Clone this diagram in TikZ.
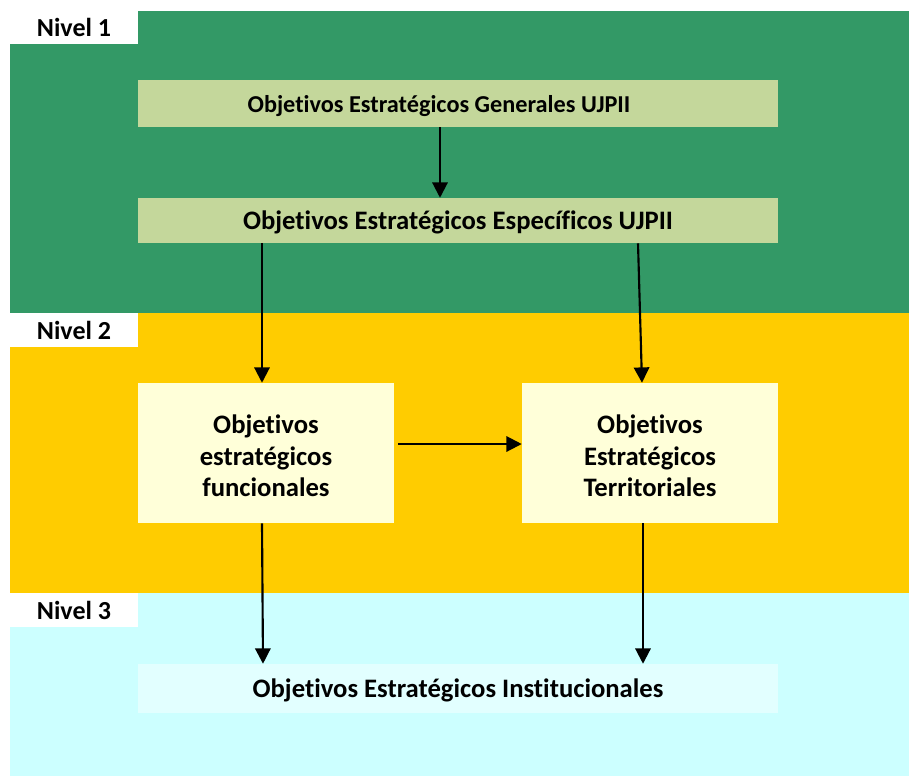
\documentclass[tikz,border=0pt]{standalone}
\usepackage{fontspec}
\setmainfont{Carlito}[Ligatures=NoCommon]
\usetikzlibrary{arrows.meta}
\definecolor{bandgreen}{RGB}{51,153,102}
\definecolor{bandyellow}{RGB}{255,204,0}
\definecolor{bandcyan}{RGB}{204,255,255}
\definecolor{boxolive}{RGB}{196,215,155}
\definecolor{boxcream}{RGB}{255,255,217}
\definecolor{boxcyan}{RGB}{226,255,255}
\newcommand{\stacklines}[1]{\raisebox{-4.5pt}[\height][\depth]{\begin{tabular}{@{}c@{}}#1\end{tabular}}}
\newcommand{\lowered}[1]{\raisebox{-1.75pt}[\height][\depth]{#1}}
\tikzset{
  box/.style={inner sep=0pt, align=center, font=\bfseries\fontsize{20}{23.6}\selectfont},
  widebox/.style={box, minimum width=480pt},
  sqbox/.style={box, fill=boxcream, minimum width=192pt, minimum height=105pt},
  lvl/.style={fill=white, inner sep=0pt, minimum width=96pt, minimum height=25pt, font=\bfseries\fontsize{19.5}{22}\selectfont},
  arr/.style={line width=1.6pt, -{Triangle[length=11.5pt,width=11.5pt]}}
}
\begin{document}
\begin{tikzpicture}[x=0.75pt,y=-0.75pt]
\useasboundingbox (0,0) rectangle (909,776);
% bands
\fill[bandgreen] (10,11) rectangle (909,313);
\fill[bandyellow] (10,313) rectangle (909,593);
\fill[bandcyan] (10,593) rectangle (909,776);
% level labels
\node[lvl] (n1) at (74,27.5) {Nivel 1};
\node[lvl] (n2) at (74,330) {Nivel 2};
\node[lvl] (n3) at (74,610) {Nivel 3};
% boxes
\node[widebox, fill=boxolive, minimum height=35.25pt, font=\bfseries\fontsize{18.2}{22}\selectfont] (b1) at (458,103.5) {\hspace*{-28.5pt}\lowered{Objetivos Estratégicos Generales UJPII}};
\node[widebox, fill=boxolive, minimum height=33.75pt] (b2) at (458,220.5) {\lowered{Objetivos Estratégicos Específicos UJPII}};
\node[sqbox] (b3) at (266,453) {\stacklines{Objetivos\\estratégicos\\funcionales}};
\node[sqbox] (b4) at (650,453) {\stacklines{Objetivos\\Estratégicos\\Territoriales}};
\node[widebox, fill=boxcyan, minimum height=36.75pt] (b5) at (458,688.5) {\lowered{Objetivos Estratégicos Institucionales}};
% arrows
\draw[arr] ([xshift=-13.5pt]b1.south) -- ([xshift=-13.5pt]b2.north);
\draw[arr] ([xshift=-147pt]b2.south) -- ([xshift=-3pt]b3.north);
\draw[arr] ([xshift=135pt]b2.south) -- ([xshift=-6pt]b4.north);
\draw[arr] ([xshift=3pt,yshift=6.75pt]b3.east) -- ([yshift=6.75pt]b4.west);
\draw[arr] ([xshift=-3pt]b3.south) -- ([xshift=-146.25pt]b5.north);
\draw[arr] ([xshift=-5.25pt]b4.south) -- ([xshift=138.75pt]b5.north);
\end{tikzpicture}
\end{document}
